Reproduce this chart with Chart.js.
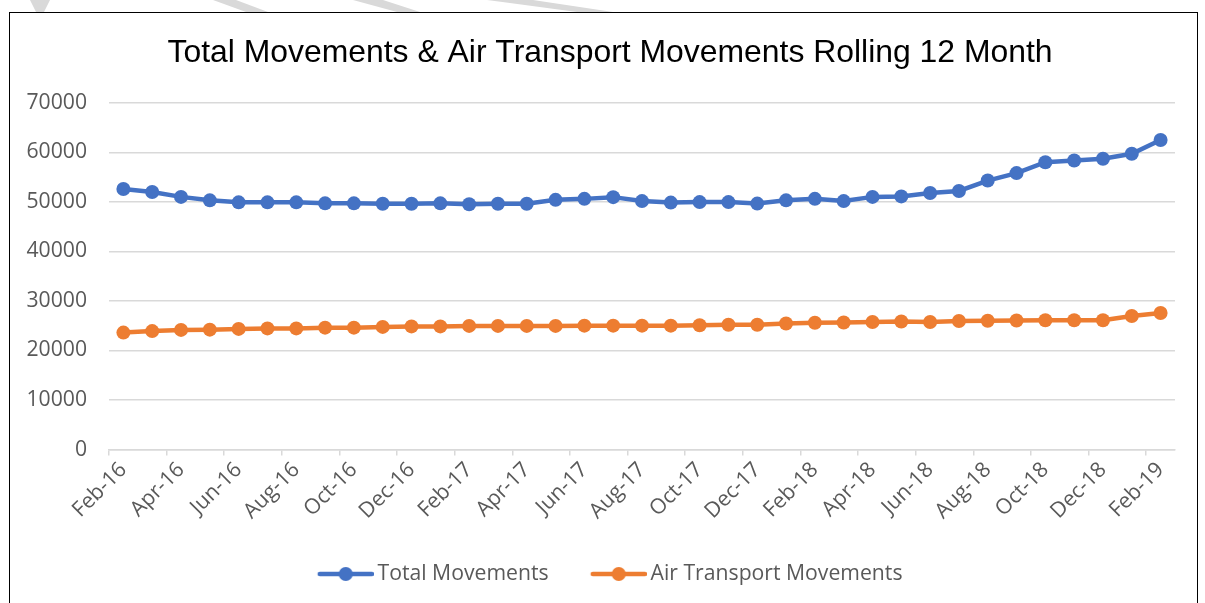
<!DOCTYPE html>
<html>
<head>
<meta charset="utf-8">
<script src="https://cdn.jsdelivr.net/npm/chart.js@4.4.0/dist/chart.umd.min.js"></script>
<style>
html,body{margin:0;padding:0;background:#fff;overflow:hidden;}
#wm{position:absolute;left:0;top:0;}
#box{position:absolute;left:9px;top:12px;width:1187px;height:620px;border:1px solid #000;background:#fff;}
#myChart{position:absolute;left:0;top:0;}
</style>
</head>
<body>
<!-- strisce grigie della filigrana sopra il riquadro -->
<svg id="wm" width="1205" height="14">
  <polygon points="30,0 50,0 44,12 36,12" fill="#d9d9d9"/>
  <polygon points="213,0 236,0 268,12 246,12" fill="#d9d9d9"/>
  <polygon points="353,0 383,0 420,12 397,12" fill="#d9d9d9"/>
  <polygon points="487,0 533,0 613,12 577,12" fill="#d9d9d9"/>
</svg>
<div id="box"></div>
<canvas id="myChart" width="1205" height="603"></canvas>
<script>
var mesi = ['Feb-16','Mar-16','Apr-16','May-16','Jun-16','Jul-16','Aug-16','Sep-16','Oct-16','Nov-16','Dec-16',
  'Jan-17','Feb-17','Mar-17','Apr-17','May-17','Jun-17','Jul-17','Aug-17','Sep-17','Oct-17','Nov-17','Dec-17',
  'Jan-18','Feb-18','Mar-18','Apr-18','May-18','Jun-18','Jul-18','Aug-18','Sep-18','Oct-18','Nov-18','Dec-18',
  'Jan-19','Feb-19'];

var totaleMovimenti = [52600,52000,51000,50300,49900,49900,49900,49700,49700,49600,49600,
  49700,49500,49600,49600,50400,50600,50950,50150,49850,49950,49950,49650,
  50300,50600,50150,51000,51100,51800,52200,54300,55800,58000,58350,58700,
  59700,62500];

var movimentiAerei = [23600,23900,24150,24200,24350,24450,24450,24600,24600,24750,24850,
  24850,24950,24950,24950,24950,25000,25000,25000,25000,25100,25200,25200,
  25450,25600,25650,25750,25850,25750,25950,26000,26050,26100,26100,26100,
  26950,27550];

var nomiSerie = ['Total Movements','Air Transport Movements'];
var colori = ['#4472C4','#ED7D31'];

var fontEtichette = {family:'Open Sans', size:21.2};

// icona della legenda: linea con il pallino in mezzo
// (margine trasparente a sinistra cosi' la linea parte dal bordo del box)
function iconaLegenda(colore){
  var c = document.createElement('canvas');
  c.width = 63;
  c.height = 16;
  var g = c.getContext('2d');
  g.strokeStyle = colore;
  g.lineWidth = 4.5;
  g.lineCap = 'round';
  g.beginPath();
  g.moveTo(9,8);
  g.lineTo(61,8);
  g.stroke();
  g.fillStyle = colore;
  g.beginPath();
  g.arc(35,8,7,0,Math.PI*2);
  g.fill();
  return c;
}
var icone = [iconaLegenda(colori[0]), iconaLegenda(colori[1])];

function serie(i, dati){
  return {
    label: nomiSerie[i],
    data: dati,
    borderColor: colori[i],
    backgroundColor: colori[i],
    borderWidth: 4.5,
    pointRadius: 7,
    pointHoverRadius: 7,
    pointBorderWidth: 0,
    pointBackgroundColor: colori[i],
    tension: 0,
    clip: false
  };
}

var ctx = document.getElementById('myChart').getContext('2d');
var chart = new Chart(ctx, {
  type: 'line',
  data: {
    labels: mesi,
    datasets: [serie(0, totaleMovimenti), serie(1, movimentiAerei)]
  },
  options: {
    responsive: false,
    animation: false,
    layout: { padding: {left: 15, right: 0, top: 0, bottom: 8.4} },
    plugins: {
      title: {
        display: true,
        text: 'Total Movements & Air Transport Movements Rolling 12 Month',
        color: '#000',
        font: {family:'Liberation Sans', size:31.9, weight:'normal', lineHeight:1.2},
        padding: {top:34.5, bottom:30}
      },
      legend: {
        position: 'bottom',
        labels: {
          usePointStyle: true,
          pointStyleWidth: 49.4,
          padding: 42,
          color: '#595959',
          font: fontEtichette,
          generateLabels: function(chart){
            var voci = Chart.defaults.plugins.legend.labels.generateLabels(chart);
            voci.forEach(function(v, i){
              v.pointStyle = icone[i];
              v.fontColor = '#595959';
            });
            return voci;
          }
        }
      },
      tooltip: { enabled: false }
    },
    scales: {
      x: {
        offset: true,
        grid: {
          offset: true,
          drawOnChartArea: false,
          drawTicks: true,
          tickLength: 6,
          lineWidth: 1.5,
          color: function(c){
            return (c.index % 2 === 0 && c.index < mesi.length) ? '#d9d9d9' : 'rgba(0,0,0,0)';
          }
        },
        border: { color: '#d9d9d9', width: 1.5 },
        ticks: {
          autoSkip: false,
          maxRotation: 45,
          minRotation: 45,
          padding: 2,
          color: '#595959',
          font: fontEtichette,
          callback: function(val, i){
            return i % 2 === 0 ? this.getLabelForValue(val) : '';
          }
        },
        afterFit: function(scale){ scale.height = 71.9; }
      },
      y: {
        min: 0,
        max: 70000,
        ticks: {
          stepSize: 10000,
          padding: 22,
          color: '#595959',
          font: fontEtichette,
          callback: function(v){ return v; }
        },
        grid: { color: '#d9d9d9', lineWidth: 1.5, drawTicks: false },
        border: { display: false },
        afterFit: function(scale){ scale.width = 94; }
      },
      // asse vuoto a destra: serve solo a lasciare il margine come nell'originale
      margineDestro: {
        position: 'right',
        display: true,
        grid: { drawOnChartArea: false, drawTicks: false },
        border: { display: false },
        ticks: { display: false },
        afterFit: function(scale){ scale.width = 30; }
      }
    }
  }
});
</script>
</body>
</html>
